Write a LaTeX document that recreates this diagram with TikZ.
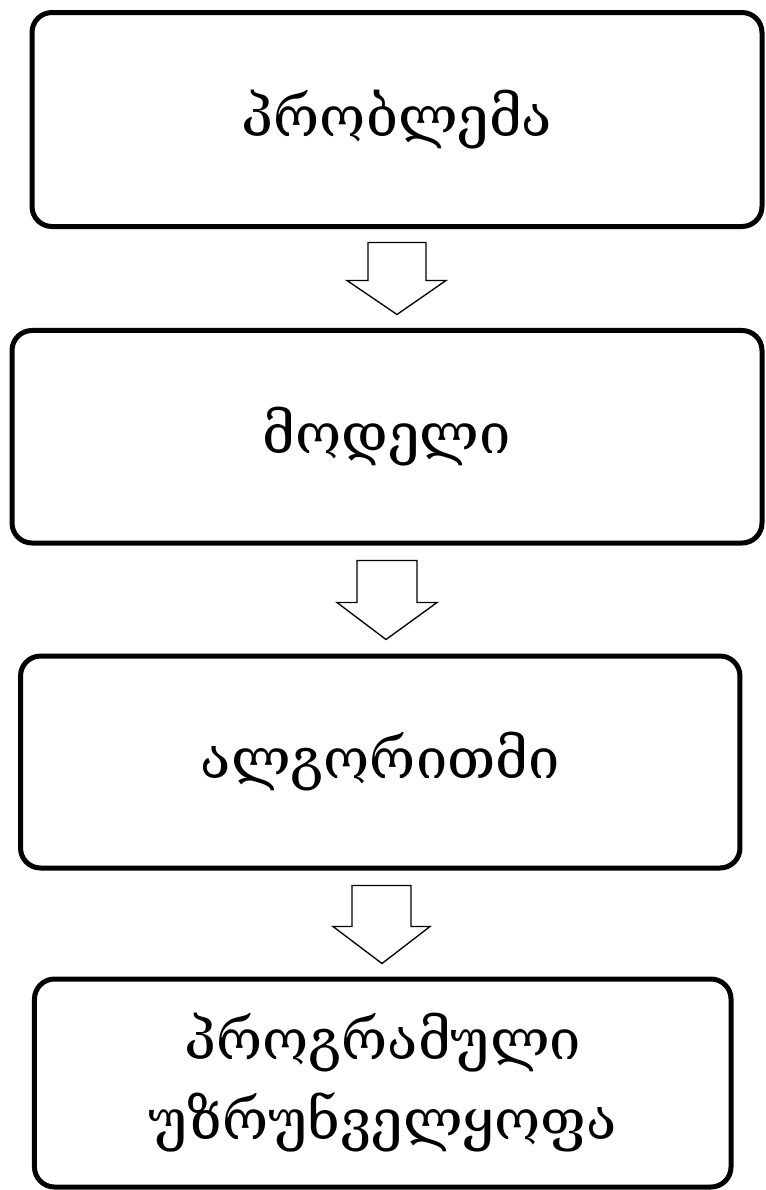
\documentclass[tikz,border=0pt]{standalone}
\usepackage{fontspec}
\newfontfamily\geo{DejaVu Serif}
\usetikzlibrary{calc}
\begin{document}
\begin{tikzpicture}[x=0.75pt,y=-0.75pt,
  box/.style={draw=black,line width=3.75pt,rounded corners=15pt,fill=white,
    align=center,font=\geo\fontsize{42}{60}\selectfont,inner sep=0pt},
  blockarrow/.style={draw=black,line width=1pt,fill=white,line join=miter}]
\useasboundingbox (0,0) rectangle (765,1190);
\node[box,minimum width=547.5pt,minimum height=160.5pt] (b1) at (397,119.5) {პრობლემა};
\node[box,minimum width=562.5pt,minimum height=159.4pt] (b2) at (387,436.75) {მოდელი};
\node[box,minimum width=539.6pt,minimum height=159pt] (b3) at (380.25,762) {ალგორითმი};
\node[box,minimum width=522.4pt,minimum height=156pt] (b4) at (382.75,1083) {პროგრამული\\უზრუნველყოფა};
% arrow 1
\draw[blockarrow] ($(b1.south)+(-29,13.5)$) -- ++(0,38) -- ++(-21,0) -- ($(b2.north)+(10,-13.5)$)
  -- ($(b1.south)+(49,51.5)$) -- ++(-20,0) -- ++(0,-38) -- cycle;
% arrow 2
\draw[blockarrow] ($(b2.south)+(-30,15)$) -- ++(0,42) -- ++(-20,0) -- ($(b3.north)+(5.75,-14)$)
  -- ($(b2.south)+(50,57)$) -- ++(-20,0) -- ++(0,-42) -- cycle;
% arrow 3
\draw[blockarrow] ($(b3.south)+(-28.25,15)$) -- ++(0,41) -- ++(-19,0) -- ($(b4.north)+(-0.75,-13)$)
  -- ($(b3.south)+(49.75,56)$) -- ++(-19,0) -- ++(0,-41) -- cycle;
\end{tikzpicture}
\end{document}
